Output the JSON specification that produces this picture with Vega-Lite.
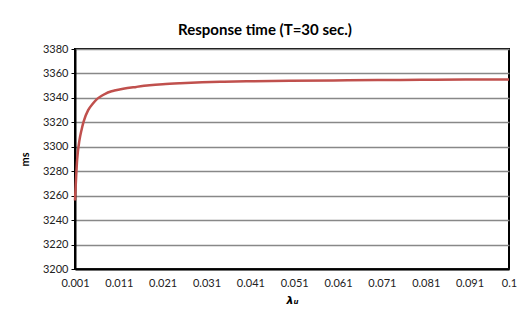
{
  "$schema": "https://vega.github.io/schema/vega-lite/v6.json",
  "width": 434,
  "height": 220,
  "autosize": "none",
  "padding": {"left": 75, "top": 49, "right": 11, "bottom": 51},
  "background": "white",
  "title": {"text": "Response time (T=30 sec.)", "font": "Lato", "fontSize": 15, "fontWeight": "bold", "color": "#000", "offset": 5, "dx": -27},
  "config": {
    "view": {"stroke": "#000", "strokeWidth": 2},
    "font": "Lato"
  },
  "data": {"values": [
    {"lambda": 0.001, "ms": 3256},
    {"lambda": 0.0015, "ms": 3290},
    {"lambda": 0.002, "ms": 3305},
    {"lambda": 0.0025, "ms": 3314},
    {"lambda": 0.003, "ms": 3321},
    {"lambda": 0.004, "ms": 3330},
    {"lambda": 0.005, "ms": 3335},
    {"lambda": 0.006, "ms": 3339},
    {"lambda": 0.007, "ms": 3341.5},
    {"lambda": 0.008, "ms": 3343.5},
    {"lambda": 0.009, "ms": 3345},
    {"lambda": 0.010, "ms": 3346},
    {"lambda": 0.012, "ms": 3347.5},
    {"lambda": 0.015, "ms": 3349},
    {"lambda": 0.018, "ms": 3350.3},
    {"lambda": 0.021, "ms": 3351.2},
    {"lambda": 0.025, "ms": 3352},
    {"lambda": 0.030, "ms": 3352.7},
    {"lambda": 0.035, "ms": 3353.2},
    {"lambda": 0.041, "ms": 3353.6},
    {"lambda": 0.050, "ms": 3354},
    {"lambda": 0.060, "ms": 3354.3},
    {"lambda": 0.070, "ms": 3354.6},
    {"lambda": 0.080, "ms": 3354.8},
    {"lambda": 0.090, "ms": 3355},
    {"lambda": 0.100, "ms": 3355.1}
  ]},
  "mark": {"type": "line", "color": "#C0504D", "strokeWidth": 2.5, "interpolate": "monotone"},
  "encoding": {
    "x": {
      "field": "lambda", "type": "quantitative",
      "scale": {"domain": [0.001, 0.1], "nice": false, "zero": false},
      "axis": {
        "title": "λᵤ", "titleFont": "DejaVu Sans", "titleFontSize": 11, "titleFontWeight": "bold", "titleFontStyle": "italic", "titleColor": "#000", "titlePadding": 6,
        "values": [0.001, 0.011, 0.021, 0.031, 0.041, 0.051, 0.061, 0.071, 0.081, 0.091, 0.1],
        "format": ".3~f", "labelFontSize": 11, "labelColor": "#222", "labelPadding": 8,
        "ticks": false, "grid": false, "domainColor": "#000", "domainWidth": 2, "labelFlush": false
      }
    },
    "y": {
      "field": "ms", "type": "quantitative",
      "scale": {"domain": [3200, 3380], "nice": false, "zero": false},
      "axis": {
        "title": "ms", "titleFontSize": 11, "titleFontWeight": "bold", "titleColor": "#000", "titlePadding": 12,
        "values": [3200, 3220, 3240, 3260, 3280, 3300, 3320, 3340, 3360, 3380],
        "format": "d",
        "labelFontSize": 11, "labelColor": "#222", "labelPadding": 3,
        "tickSize": 4, "tickColor": "#000", "tickWidth": 1,
        "grid": true, "gridColor": "#888", "gridWidth": 1.5,
        "domainColor": "#000", "domainWidth": 2
      }
    }
  }
}
